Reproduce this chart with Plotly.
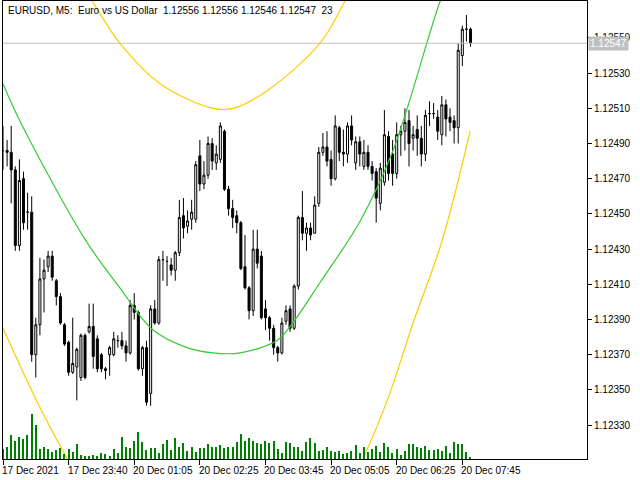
import plotly.graph_objects as go

opens = [486,486,485,475,432,470,451,451,370,387,413,420,426,412,403,387,377,360,363,357,381,383,386,379,370,362,370,370,378,378,
 375,371,398,394,362,374,348,396,388,424,423,421,418,428,449,443,447,447,483,467,472,490,479,481,497,464,453,449,445,420,
 408,395,430,426,396,391,385,374,371,389,396,385,409,448,439,442,439,456,485,488,481,470,499,485,484,500,479,491,477,485,
 477,474,456,468,494,484,473,495,497,503,493,498,493,484,507,507,505,495,512,505,503,499,540,555,555]
closes = [486,485,475,432,469,445,451,370,387,413,418,426,414,403,388,376,360,365,373,381,357,386,369,362,362,361,374,379,378,375,
 371,398,394,362,374,343,396,388,424,424,423,418,428,448,442,446,451,478,467,472,490,480,484,500,464,453,448,445,419,408,
 395,430,422,391,391,385,374,371,388,395,385,409,448,439,442,438,455,485,488,480,470,500,485,484,500,492,491,484,485,477,
 473,459,476,495,473,473,495,497,502,490,495,493,484,506,507,507,497,512,504,502,499,543,555,555,547]
highs = [500,492,500,477,481,474,462,460,391,425,424,429,429,413,405,388,378,391,374,382,382,399,399,381,371,363,375,383,381,383,
 378,401,405,395,375,378,398,401,426,429,426,425,429,458,459,452,458,480,492,480,494,493,489,502,498,466,458,452,446,438,
 409,441,441,429,401,392,387,375,391,398,398,410,449,463,445,445,460,488,496,497,486,506,500,498,502,506,494,494,492,489,
 480,476,479,509,497,492,502,500,510,509,500,506,500,509,514,513,509,517,515,510,506,547,557,563,556]
lows = [475,477,456,429,429,441,441,366,357,381,394,417,412,398,387,375,358,359,344,355,356,382,362,360,360,356,358,369,374,373,
 366,370,390,361,358,341,341,387,387,412,409,415,412,426,436,439,441,445,463,464,470,475,475,479,463,449,442,439,418,407,
 390,392,419,390,384,378,370,366,370,387,383,384,407,435,429,435,439,454,483,477,466,469,480,477,479,489,475,477,475,475,
 469,445,452,466,469,466,470,483,486,477,486,483,477,480,500,504,492,489,494,497,490,490,534,548,545]
volumes = [100,123,240,180,217,200,237,450,340,100,117,100,73,90,107,50,97,73,150,
 40,30,30,40,33,57,50,30,100,
 57,220,117,107,180,270,170,90,
 107,107,57,150,190,90,207,123,157,83,123,70,107,107,150,117,123,140,107,117,123,173,250,180,207,180,163,150,180,163,180,100,57,170,157,123,117,80,173,207,163,
 80,90,117,80,73,80,50,57,80,140,57,117,67,100,127,67,160,120,63,100,40,80,150,150,117,107,130,90,90,100,80,130,63,170,150,150,70,20]

green_i = [0,4.1,20,28.5,36.6,44.9,51.2,57.8,66.8,70,77.3,87.1,95.1,106.6,110.2]
green_p = [1.12524,1.12503,1.124355,1.12408,1.12384,1.12374,1.12371,1.12371,1.12378,1.12386,1.12411,1.12446,1.12486,1.12571,1.12591]
upper_i = [18.8,21.7,28.5,38.3,51.2,56.1,64.4,77.3,83.4,85.9]
upper_p = [1.12581,1.12571,1.12547,1.12524,1.12510,1.12510,1.12520,1.12547,1.12571,1.12581]
lowA_i = [0,9,15.6,17.6]
lowA_p = [1.12385,1.12340,1.12311,1.12302]
lowB_i = [85.9,87.8,93.7,100,107.1,113.9]
lowB_p = [1.12302,1.12311,1.12344,1.12388,1.12435,1.12497]

tick_idx = [0,16,32,48,64,80,96,112]
tick_lbl = ["17 Dec 2021","17 Dec 23:40","20 Dec 01:05","20 Dec 02:25","20 Dec 03:45","20 Dec 05:05","20 Dec 06:25","20 Dec 07:45"]
ytick_vals = [1.12330,1.12350,1.12370,1.12390,1.12410,1.12430,1.12450,1.12470,1.12490,1.12510,1.12530,1.12550]
last_price = 1.12547
title = "EURUSD, M5:  Euro vs US Dollar  1.12556 1.12556 1.12546 1.12547  23"

f = lambda a: [1.12 + v / 1e5 for v in a]
x = list(range(len(closes)))
FONT = "Liberation Sans"

fig = go.Figure()
fig.add_trace(go.Bar(x=x, y=volumes, yaxis="y2", marker=dict(color="#008000", line=dict(width=0)),
                     width=0.3, hoverinfo="skip"))
fig.add_trace(go.Candlestick(x=x, open=f(opens), high=f(highs), low=f(lows), close=f(closes),
                             increasing=dict(fillcolor="white", line=dict(color="black", width=1)),
                             decreasing=dict(fillcolor="black", line=dict(color="black", width=1)),
                             whiskerwidth=0))
for xi, yp, c in [(green_i, green_p, "#33cc33"), (upper_i, upper_p, "#ffcc00"),
                  (lowA_i, lowA_p, "#ffcc00"), (lowB_i, lowB_p, "#ffcc00")]:
    fig.add_trace(go.Scatter(x=xi, y=yp, mode="lines", line=dict(color=c, width=1.2, shape="spline"), hoverinfo="skip"))

fig.add_shape(type="line", xref="paper", x0=0, x1=1, y0=last_price, y1=last_price, line=dict(color="#c0c0c0", width=1))

ann = [dict(x=i, y=0, xref="x", yref="paper", text=t, showarrow=False, xanchor="left", yanchor="top",
            yshift=-4, xshift=-3, font=dict(size=10, color="black", family=FONT)) for i, t in zip(tick_idx, tick_lbl)]
ann.append(dict(x=0.005, y=1, xref="paper", yref="paper", text=title, showarrow=False, xanchor="left",
                yanchor="top", yshift=-2, font=dict(size=10, color="black", family=FONT)))
ann.append(dict(x=1, y=last_price, xref="paper", yref="y", text="1.12547", showarrow=False, xanchor="left",
                xshift=1, bgcolor="#c0c0c0", font=dict(size=10, color="white", family=FONT), borderpad=1))
fig.update_layout(
    width=640, height=480, margin=dict(l=3, r=53, t=1, b=21, autoexpand=False),
    paper_bgcolor="white", plot_bgcolor="white", showlegend=False,
    font=dict(family=FONT, size=10, color="black"),
    annotations=ann, bargap=0,
    xaxis=dict(range=[0, 142.4], tickvals=tick_idx, showticklabels=False, ticks="outside", ticklen=5,
               tickcolor="black", showgrid=False, zeroline=False, showline=True, linecolor="black",
               mirror=True, rangeslider=dict(visible=False), automargin=False),
    yaxis=dict(range=[1.123107, 1.125710], side="right", tickvals=ytick_vals, tickformat=".5f",
               ticks="outside", ticklen=4, tickcolor="black", showgrid=False, zeroline=False,
               showline=True, linecolor="black", mirror=True, automargin=False),
    yaxis2=dict(range=[0, 4590], overlaying="y", visible=False),
)
fig.write_html("out.html", config={"displayModeBar": False},
               post_script="document.body.style.margin='0';document.body.style.overflow='hidden';")
